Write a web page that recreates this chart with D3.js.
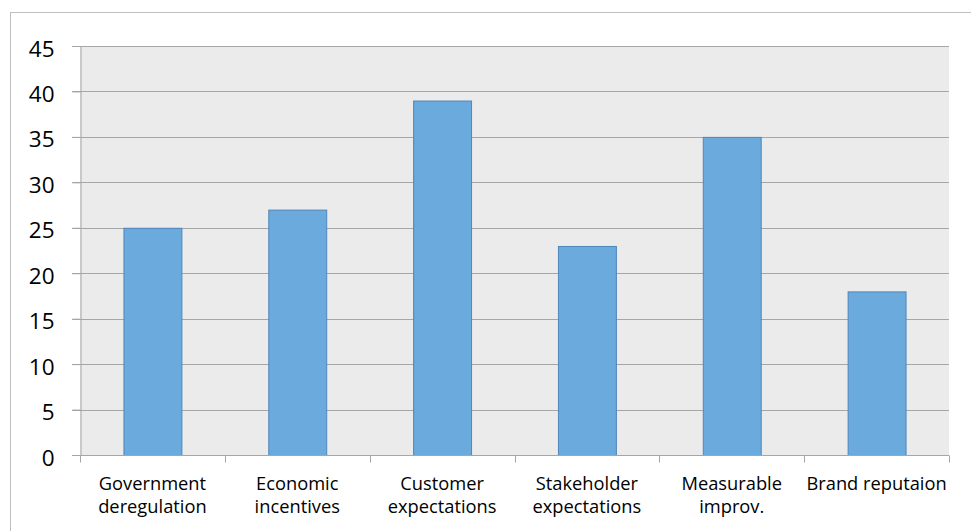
<!DOCTYPE html>
<html>
<head>
<meta charset="utf-8">
<script src="https://cdn.jsdelivr.net/npm/d3@7"></script>
<style>
  html, body { margin: 0; padding: 0; background: #fff; }
  svg { display: block; }
</style>
</head>
<body>
<svg id="chart" width="971" height="531"></svg>
<script>
// Drivers and their scores
const categories = [
  ["Government", "deregulation"],
  ["Economic", "incentives"],
  ["Customer", "expectations"],
  ["Stakeholder", "expectations"],
  ["Measurable", "improv."],
  ["Brand reputaion"]
];
const values = [25, 27, 39, 23, 35, 18];
const yTicks = [0, 5, 10, 15, 20, 25, 30, 35, 40, 45];

const svg = d3.select("#chart");
const font = "'Open Sans', 'Liberation Sans', sans-serif";

// chart frame
svg.append("rect")
  .attr("x", 10.5).attr("y", 12.5)
  .attr("width", 1000).attr("height", 600)
  .attr("fill", "#fff").attr("stroke", "#bfbfbf").attr("stroke-width", 1);

const plot = { left: 80, top: 46, right: 949, bottom: 455 };

const x = d3.scaleBand()
  .domain(d3.range(categories.length))
  .range([plot.left, plot.right])
  .padding(0);

const y = d3.scaleLinear()
  .domain([0, 45])
  .range([plot.bottom, plot.top]);

// plot background
svg.append("rect")
  .attr("x", plot.left).attr("y", plot.top)
  .attr("width", plot.right - plot.left).attr("height", plot.bottom - plot.top)
  .attr("fill", "#ebebeb");

// horizontal gridlines
svg.append("g")
  .selectAll("line")
  .data(yTicks.filter(d => d > 0))
  .join("line")
  .attr("x1", plot.left - 8).attr("x2", plot.right)
  .attr("y1", d => Math.round(y(d)) + 0.5).attr("y2", d => Math.round(y(d)) + 0.5)
  .attr("stroke", "#a6a6a6").attr("stroke-width", 1);

// y axis
const yAxis = svg.append("g")
  .attr("transform", `translate(${plot.left + 0.5},0)`)
  .call(d3.axisLeft(y).tickValues(yTicks).tickSize(8).tickPadding(18).tickFormat(d3.format("d")));
yAxis.select(".domain").attr("stroke", "#a6a6a6");
yAxis.selectAll(".tick line").attr("stroke", "#a6a6a6");
yAxis.selectAll(".tick text")
  .attr("font-family", font).attr("font-size", 22.5).attr("fill", "#000")
  .attr("dy", 10);

// bars
const barW = x.bandwidth() * 0.4;
svg.append("g")
  .selectAll("rect")
  .data(values)
  .join("rect")
  .attr("x", (d, i) => x(i) + (x.bandwidth() - barW) / 2 + 0.5)
  .attr("y", d => y(d) + 0.5)
  .attr("width", barW)
  .attr("height", d => y(0) - y(d))
  .attr("fill", "#6aaadc")
  .attr("stroke", "#4f86bb")
  .attr("stroke-width", 1);

// x axis
const xAxis = svg.append("g")
  .attr("transform", `translate(0,${plot.bottom + 0.5})`);
xAxis.append("line")
  .attr("x1", plot.left - 8).attr("x2", plot.right)
  .attr("stroke", "#a6a6a6");
xAxis.selectAll(".xtick")
  .data(d3.range(categories.length + 1))
  .join("line")
  .attr("class", "xtick")
  .attr("x1", i => Math.round(plot.left + i * x.bandwidth()) + 0.5)
  .attr("x2", i => Math.round(plot.left + i * x.bandwidth()) + 0.5)
  .attr("y1", 0).attr("y2", 7)
  .attr("stroke", "#a6a6a6");

const labels = svg.append("g")
  .selectAll("text")
  .data(categories)
  .join("text")
  .attr("x", (d, i) => x(i) + x.bandwidth() / 2)
  .attr("y", 490)
  .attr("text-anchor", "middle")
  .attr("font-family", font).attr("font-size", 18.3).attr("fill", "#000");
labels.selectAll("tspan")
  .data(d => d)
  .join("tspan")
  .attr("x", function () { return d3.select(this.parentNode).attr("x"); })
  .attr("dy", (d, i) => i === 0 ? 0 : 23)
  .text(d => d);
</script>
</body>
</html>
